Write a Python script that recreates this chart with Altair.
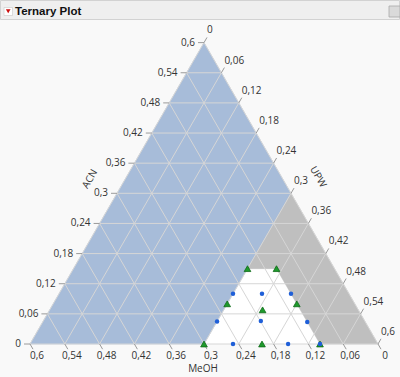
import altair as alt
import pandas as pd
import numpy as np

# ---------------- data ----------------
TOTAL = 0.6
TICKS = [0.0, 0.06, 0.12, 0.18, 0.24, 0.3, 0.36, 0.42, 0.48, 0.54, 0.6]
TICK_LABELS = ["0", "0,06", "0,12", "0,18", "0,24", "0,3", "0,36", "0,42", "0,48", "0,54", "0,6"]

# design points (green triangles)
tri_acn = [0.15, 0.15, 0.08, 0.08, 0.068, 0.0, 0.0, 0.0]
tri_upw = [0.30, 0.35, 0.30, 0.42, 0.367, 0.30, 0.40, 0.50]
tri_meoh = [0.15, 0.10, 0.22, 0.10, 0.165, 0.30, 0.20, 0.10]

# extra points (blue dots)
dot_acn = [0.10, 0.10, 0.10, 0.045, 0.046, 0.044, 0.0, 0.0, 0.0]
dot_upw = [0.30, 0.35, 0.40, 0.30, 0.375, 0.456, 0.35, 0.445, 0.50]
dot_meoh = [0.20, 0.15, 0.10, 0.255, 0.179, 0.10, 0.25, 0.155, 0.10]

# constraint regions, vertices as (ACN, UPW)
whole_acn = [0.6, 0.0, 0.0]
whole_upw = [0.0, 0.0, 0.6]
blue_acn = [0.6, 0.0, 0.0, 0.3]          # UPW < 0.3
blue_upw = [0.0, 0.0, 0.3, 0.3]
grey_acn = [0.3, 0.0, 0.0, 0.15, 0.15]   # ACN > 0.15 or MeOH < 0.1
grey_upw = [0.3, 0.6, 0.5, 0.35, 0.3]

S3 = np.sqrt(3) / 2


def tx(acn, upw):
    return upw + acn / 2.0


def ty(acn, upw):
    return acn * S3


def poly_df(acn, upw):
    return pd.DataFrame({"x": [tx(a, u) for a, u in zip(acn, upw)],
                         "y": [ty(a, u) for a, u in zip(acn, upw)],
                         "o": list(range(len(acn)))})


# ---------------- scales ----------------
PX = 580.0  # pixels per unit
xs = alt.Scale(domain=[-30 / PX, 370 / PX], nice=False, zero=False)
ys = alt.Scale(domain=[-33 / PX, 344 / PX], nice=False, zero=False)
X = lambda f="x": alt.X(f, type="quantitative", scale=xs, axis=None)
Y = lambda f="y": alt.Y(f, type="quantitative", scale=ys, axis=None)


def polygon(acn, upw, color):
    return alt.Chart(poly_df(acn, upw)).mark_line(
        fill=color, stroke=color, strokeWidth=0.5, interpolate="linear-closed"
    ).encode(x=X(), y=Y(), order=alt.Order("o:Q"))


whole = polygon(whole_acn, whole_upw, "#FFFFFF")
blue = polygon(blue_acn, blue_upw, "#A7BCD9")
grey = polygon(grey_acn, grey_upw, "#BFBFBF")

# grid lines
g = []
for c in TICKS[1:-1]:
    g.append((tx(c, 0), ty(c, 0), tx(c, TOTAL - c), ty(c, TOTAL - c)))          # ACN const
    g.append((tx(0, c), ty(0, c), tx(TOTAL - c, c), ty(TOTAL - c, c)))          # UPW const
    g.append((tx(0, TOTAL - c), ty(0, TOTAL - c), tx(TOTAL - c, 0), ty(TOTAL - c, 0)))  # MeOH const
# outline
g.append((tx(0, 0), ty(0, 0), tx(0, TOTAL), ty(0, TOTAL)))
g.append((tx(0, TOTAL), ty(0, TOTAL), tx(TOTAL, 0), ty(TOTAL, 0)))
g.append((tx(TOTAL, 0), ty(TOTAL, 0), tx(0, 0), ty(0, 0)))
grid_df = pd.DataFrame(g, columns=["x", "y", "x2", "y2"])
grid = alt.Chart(grid_df).mark_rule(color="#D6D6D6", strokeWidth=1).encode(
    x=X(), y=Y(), x2="x2:Q", y2="y2:Q")

# ticks + labels
L = 6 / PX
left_rows, bot_rows, right_rows = [], [], []
for v, lab in zip(TICKS, TICK_LABELS):
    # ACN (left side, horizontal ticks)
    sx, sy = tx(v, 0), ty(v, 0)
    left_rows.append((sx, sy, sx - L, sy, lab))
    # MeOH (bottom side), MeOH = v at ACN=0, UPW = TOTAL - v
    sx, sy = tx(0, TOTAL - v), ty(0, TOTAL - v)
    bot_rows.append((sx, sy, sx + L / 2, sy - L * S3, lab))
    # UPW (right side), UPW = v at MeOH=0
    sx, sy = tx(TOTAL - v, v), ty(TOTAL - v, v)
    right_rows.append((sx, sy, sx + L / 2, sy + L * S3, lab))
cols = ["x", "y", "x2", "y2", "label"]
tick_df = pd.DataFrame(left_rows + bot_rows + right_rows, columns=cols)
ticks = alt.Chart(tick_df).mark_rule(color="#9A9A9A", strokeWidth=1).encode(
    x=X(), y=Y(), x2="x2:Q", y2="y2:Q")

FONT = "Open Sans"
LCOL = "#333333"
lab_left = alt.Chart(pd.DataFrame(left_rows, columns=cols)).mark_text(
    align="right", baseline="middle", dx=-3, font=FONT, fontSize=10, color=LCOL
).encode(x=X("x2"), y=Y("y2"), text="label:N")
lab_bot = alt.Chart(pd.DataFrame(bot_rows, columns=cols)).mark_text(
    align="center", baseline="top", dx=4, dy=2, font=FONT, fontSize=10, color=LCOL
).encode(x=X("x2"), y=Y("y2"), text="label:N")
lab_right = alt.Chart(pd.DataFrame(right_rows, columns=cols)).mark_text(
    align="left", baseline="middle", dx=0, dy=-7, font=FONT, fontSize=10, color=LCOL
).encode(x=X("x2"), y=Y("y2"), text="label:N")

# axis titles
titles_df = pd.DataFrame({"t": ["MeOH", "ACN", "UPW"]})
t_meoh = alt.Chart(titles_df.iloc[[0]]).mark_text(font=FONT, fontSize=10, color=LCOL,
                                                  baseline="middle").encode(
    x=alt.value(203), y=alt.value(369), text="t:N")
t_acn = alt.Chart(titles_df.iloc[[1]]).mark_text(font=FONT, fontSize=10, color=LCOL,
                                                 baseline="middle", angle=300).encode(
    x=alt.value(90), y=alt.value(179), text="t:N")
t_upw = alt.Chart(titles_df.iloc[[2]]).mark_text(font=FONT, fontSize=10, color=LCOL,
                                                 baseline="middle", angle=60).encode(
    x=alt.value(318), y=alt.value(177), text="t:N")

# points
tri_df = pd.DataFrame({"x": [tx(a, u) for a, u in zip(tri_acn, tri_upw)],
                       "y": [ty(a, u) for a, u in zip(tri_acn, tri_upw)]})
dot_df = pd.DataFrame({"x": [tx(a, u) for a, u in zip(dot_acn, dot_upw)],
                       "y": [ty(a, u) for a, u in zip(dot_acn, dot_upw)]})
tris = alt.Chart(tri_df).mark_point(shape="triangle-up", filled=True, size=45,
                                    fill="#1E9A2C", stroke="#0E6A18", strokeWidth=0.8,
                                    opacity=1).encode(x=X(), y=Y())
dots = alt.Chart(dot_df).mark_point(shape="circle", filled=True, size=20,
                                    fill="#1F5FD8", opacity=1).encode(x=X(), y=Y())

# header bar
hdr = pd.DataFrame({"t": ["Ternary Plot"]})
bar = alt.Chart(hdr).mark_rect(fill="#EFEFEF", stroke="#D2D2D2", strokeWidth=1).encode(
    x=alt.value(0.5), x2=alt.value(399.5), y=alt.value(0.5), y2=alt.value(19.5))
box = alt.Chart(hdr).mark_rect(fill="#FFFFFF", stroke="#C8C8C8", strokeWidth=0.6).encode(
    x=alt.value(4), x2=alt.value(12.5), y=alt.value(7.5), y2=alt.value(15.5))
redtri = alt.Chart(hdr).mark_point(shape="triangle-down", filled=True, size=22,
                                   fill="#CC1111", opacity=1).encode(
    x=alt.value(8.2), y=alt.value(11.2))
htext = alt.Chart(hdr).mark_text(align="left", baseline="middle", font="Liberation Sans",
                                 fontWeight="bold", fontSize=11.5, color="#111111").encode(
    x=alt.value(15), y=alt.value(12), text="t:N")
ricon = alt.Chart(hdr).mark_rect(fill="#DADADA", stroke="#A8A8A8", strokeWidth=0.8).encode(
    x=alt.value(389), x2=alt.value(400), y=alt.value(6), y2=alt.value(17))

chart = alt.layer(
    whole, blue, grey, grid, ticks, lab_left, lab_bot, lab_right,
    t_meoh, t_acn, t_upw, tris, dots, bar, box, redtri, htext, ricon
).properties(
    width=400, height=377, autosize=alt.AutoSizeParams(type="none"),
    padding=0, background="#F9F9F9"
).configure_view(stroke=None, fill="#F9F9F9")

chart.save("out.html", embed_options={"renderer": "svg", "actions": False})
